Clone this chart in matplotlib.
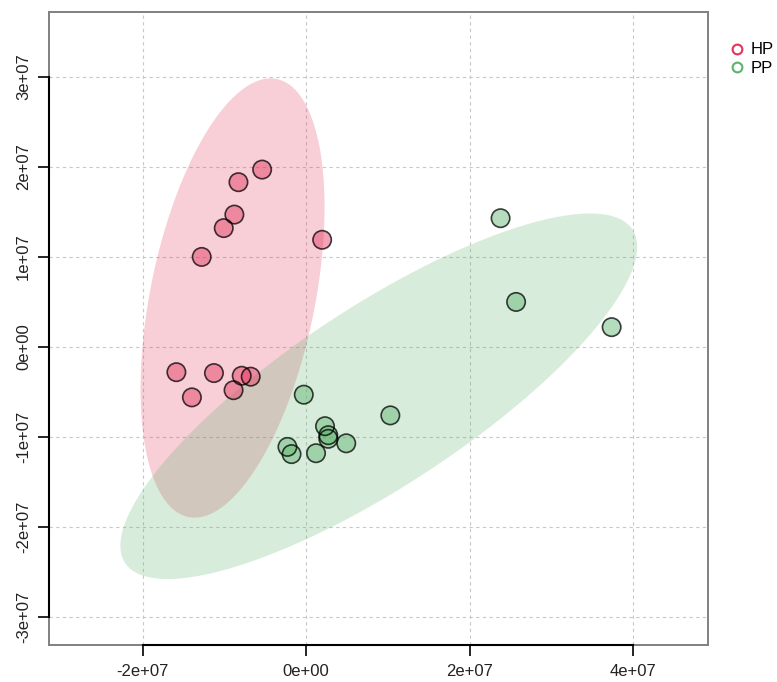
import numpy as np
import matplotlib
matplotlib.use("Agg")
import matplotlib.pyplot as plt
from matplotlib.lines import Line2D

plt.rcParams['font.family'] = ['Liberation Sans', 'DejaVu Sans']

# sample scores
groups = ["HP", "PP"]
colors = ["#E3335B", "#5BB36B"]
hp_x = [-5.4e6, -8.3e6, -8.8e6, -1.01e7, -1.28e7, 1.95e6,
        -1.59e7, -1.13e7, -7.9e6, -6.8e6, -1.40e7, -8.9e6]
hp_y = [1.97e7, 1.83e7, 1.47e7, 1.32e7, 1.0e7, 1.19e7,
        -2.8e6, -2.9e6, -3.2e6, -3.3e6, -5.6e6, -4.8e6]
pp_x = [2.38e7, 2.57e7, 3.74e7, -3e5, 1.03e7, 2.3e6,
        2.7e6, 2.7e6, 4.9e6, -2.3e6, -1.8e6, 1.2e6]
pp_y = [1.43e7, 5.0e6, 2.2e6, -5.3e6, -7.6e6, -8.8e6,
        -9.8e6, -1.02e7, -1.07e7, -1.11e7, -1.19e7, -1.18e7]
xticks = [-2e7, 0, 2e7, 4e7]
yticks = [-3e7, -2e7, -1e7, 0, 1e7, 2e7, 3e7]
xlim = (-3.15e7, 4.92e7)
ylim = (-3.31e7, 3.72e7)
level_scale = np.sqrt(5.991)  # 95% chi-square, 2 df


def conf_ellipse(x, y, n=200):
    x = np.asarray(x)
    y = np.asarray(y)
    cov = np.cov(x, y)
    vals, vecs = np.linalg.eigh(cov)
    t = np.linspace(0, 2 * np.pi, n)
    circ = np.vstack([np.cos(t), np.sin(t)]) * np.sqrt(vals)[:, None] * level_scale
    pts = vecs @ circ
    return x.mean() + pts[0], y.mean() + pts[1]


def sci(v):
    if v == 0:
        return "0e+00"
    e = int(np.floor(np.log10(abs(v))))
    m = v / 10 ** e
    return f"{m:.0f}e{'+' if e >= 0 else '-'}{abs(e):02d}"


fig = plt.figure(figsize=(7.77, 6.82), dpi=100)
ax = fig.add_axes([49 / 777, 1 - 645 / 682, (708 - 49) / 777, (645 - 12) / 682])

ax.set_xlim(*xlim)
ax.set_ylim(*ylim)
ax.set_xticks(xticks)
ax.set_yticks(yticks)
ax.grid(True, color="#c8c8c8", linestyle=(0, (3, 3)), linewidth=0.8)
ax.set_axisbelow(True)

data = [(hp_x, hp_y), (pp_x, pp_y)]
for (gx, gy), c in zip(data, colors):
    ex, ey = conf_ellipse(gx, gy)
    ax.fill(ex, ey, color=c, alpha=0.24, linewidth=0, zorder=2)
for (gx, gy), c in zip(data, colors):
    ax.scatter(gx, gy, s=175, facecolor=c, alpha=0.45, edgecolor="none", zorder=3)
    ax.scatter(gx, gy, s=175, facecolor="none", edgecolor="black", linewidth=1.2,
               alpha=0.75, zorder=4)

ax.set_xticklabels([sci(v) for v in xticks])
ax.set_yticklabels([sci(v) for v in yticks], rotation=90, va="center")
ax.tick_params(axis="both", direction="out", length=8, width=1.2, color="black",
               labelsize=12, labelcolor="#222222")
ax.tick_params(axis="x", pad=6)
ax.tick_params(axis="y", pad=5)

for s in ax.spines.values():
    s.set_color("#808080")
    s.set_linewidth(1.4)

# R-style axis lines spanning the outer ticks
ax.plot([xticks[0], xticks[-1]], [0, 0], color="black", lw=1.5,
        transform=ax.get_xaxis_transform(), clip_on=False, zorder=6)
ax.plot([0, 0], [yticks[0], yticks[-1]], color="black", lw=1.5,
        transform=ax.get_yaxis_transform(), clip_on=False, zorder=6)

handles = [Line2D([], [], marker="o", linestyle="none", markerfacecolor="none",
                  markeredgecolor=c, markeredgewidth=1.5, markersize=7) for c in colors]
fig.legend(handles, groups, loc="upper left", bbox_to_anchor=(719 / 777, 1 - 34 / 682),
           frameon=False, fontsize=12, handletextpad=0.2, labelspacing=0.2,
           handlelength=1.2, borderpad=0)

fig.savefig("out.png", dpi=100)
